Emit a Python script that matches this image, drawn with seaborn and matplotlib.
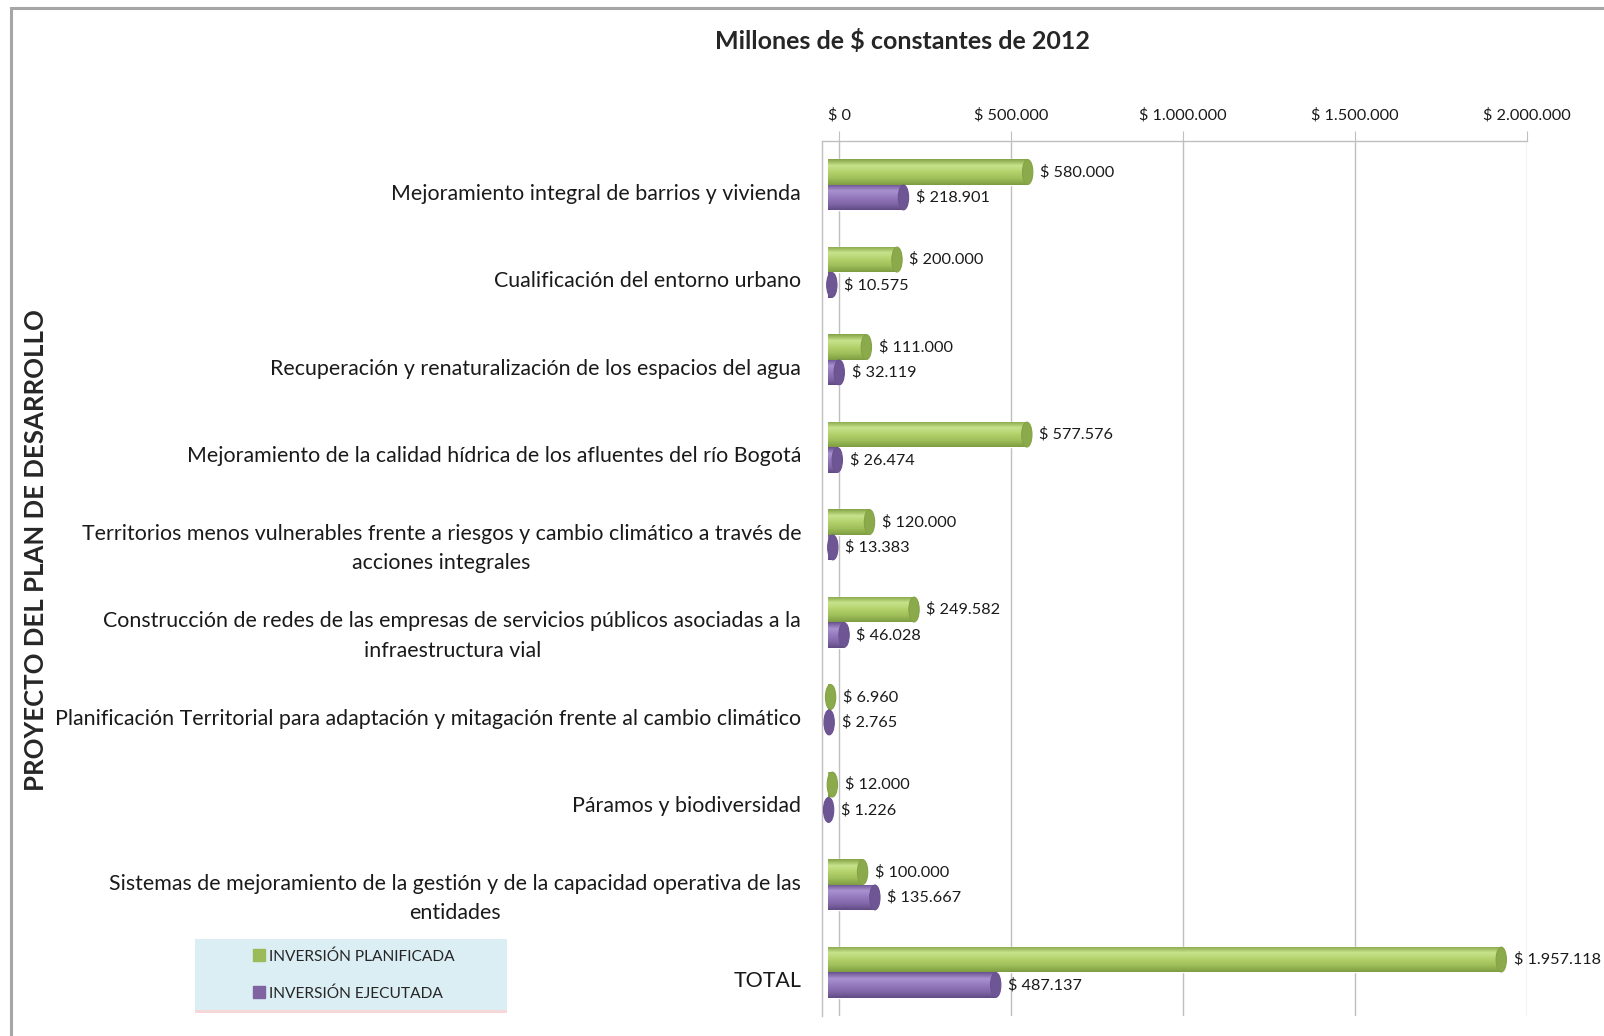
import numpy as np
import pandas as pd
import seaborn as sns
import matplotlib.pyplot as plt
import matplotlib.transforms as mtransforms
from matplotlib.colors import LinearSegmentedColormap
from matplotlib.patches import Ellipse, Rectangle
from matplotlib.lines import Line2D

# datos del grafico
proyectos = [
    "Mejoramiento integral de barrios y vivienda",
    "Cualificación del entorno urbano",
    "Recuperación y renaturalización de los espacios del agua",
    "Mejoramiento de la calidad hídrica de los afluentes del río Bogotá",
    "Territorios menos vulnerables frente a riesgos y cambio climático a través de\nacciones integrales",
    "Construcción de redes de las empresas de servicios públicos asociadas a la\ninfraestructura vial",
    "Planificación Territorial para adaptación y mitagación frente al cambio climático",
    "Páramos y biodiversidad",
    "Sistemas de mejoramiento de la gestión y de la capacidad operativa de las\nentidades",
    "TOTAL",
]
planificada = [580000, 200000, 111000, 577576, 120000, 249582, 6960, 12000, 100000, 1957118]
ejecutada = [218901, 10575, 32119, 26474, 13383, 46028, 2765, 1226, 135667, 487137]
series = ["INVERSIÓN PLANIFICADA", "INVERSIÓN EJECUTADA"]
ticks = [0, 500000, 1000000, 1500000, 2000000]

df = pd.DataFrame({
    "proyecto": proyectos * 2,
    "tipo": [series[0]] * len(proyectos) + [series[1]] * len(proyectos),
    "valor": planificada + ejecutada,
})

def pesos(v):
    return "$ " + f"{v:,.0f}".replace(",", ".")

verde = "#9BBB59"
morado = "#8064A2"
# tonos para simular el cilindro (borde, brillo, base)
tonos = {
    0: ["#84A346", "#C8E38C", "#B3D26C", "#9FBF5A", "#7E9D42"],
    1: ["#6A5290", "#A992CF", "#957BBE", "#8268AA", "#624B84"],
}
tapa = {0: "#8BAA4B", 1: "#6E5593"}

sns.set_style("white")
plt.rcParams["font.family"] = ["Lato", "DejaVu Sans"]

fig = plt.figure(figsize=(16.04, 10.36), dpi=100)
ax = fig.add_axes([822 / 1604, 1 - 1016 / 1036, 705 / 1604, 875 / 1036])

sns.barplot(data=df, y="proyecto", x="valor", hue="tipo", orient="h",
            palette=[verde, morado], width=0.58, ax=ax, legend=False,
            saturation=1)

xmin, xmax = -50000, 2000000
ylim = ax.get_ylim()

# cara frontal del cilindro algo desplazada a la izquierda (efecto 3D)
shift = mtransforms.ScaledTranslation(-11 / 100, 0, fig.dpi_scale_trans)

for i, cont in enumerate(ax.containers):
    cmap = LinearSegmentedColormap.from_list("c%d" % i, tonos[i])
    grad = np.linspace(0, 1, 64).reshape(-1, 1)
    for p in cont:
        p.set_transform(ax.transData + shift)
        x0, y0, w, h = p.get_x(), p.get_y(), p.get_width(), p.get_height()
        im = ax.imshow(grad, cmap=cmap, aspect="auto", origin="upper",
                       extent=(x0, x0 + w, y0 + h, y0), zorder=2.5,
                       interpolation="bilinear")
        im.set_transform(ax.transData + shift)
        im.set_clip_path(p)
        ax.add_patch(Ellipse((x0 + w, y0 + h / 2), 30000, h * 0.98,
                             facecolor=tapa[i], edgecolor=tonos[i][0],
                             lw=0.8, zorder=2.6,
                             transform=ax.transData + shift))
    ax.bar_label(cont, labels=[pesos(v) for v in cont.datavalues],
                 padding=1, fontsize=11.7, color="#1a1a1a")

ax.set_xlim(xmin, xmax)
ax.set_ylim(ylim)

ax.xaxis.tick_top()
ax.set_xticks(ticks)
ax.set_xticklabels([pesos(t) for t in ticks])
ax.tick_params(axis="x", top=True, length=7, color="#bfbfbf", pad=6.5,
               labelsize=11.7, labelcolor="#1a1a1a")
ax.tick_params(axis="y", length=0, pad=15, labelsize=15.4, labelcolor="#1a1a1a")
ax.set_xlabel("")
ax.set_ylabel("")
ax.grid(axis="x", color="#bfbfbf", lw=1)
ax.set_axisbelow(True)
for s in ["bottom", "right"]:
    ax.spines[s].set_visible(False)
for s in ["top", "left"]:
    ax.spines[s].set_color("#bfbfbf")
    ax.spines[s].set_linewidth(1)

# etiquetas de proyecto un poco mas abajo, como en la vista 3D
bajar = mtransforms.ScaledTranslation(0, -7 / 100, fig.dpi_scale_trans)
for tl in ax.get_yticklabels():
    tl.set_multialignment("center")
    tl.set_linespacing(1.6)
    tl.set_transform(tl.get_transform() + bajar)

fig.text(902 / 1604, 1 - 41 / 1036, "Millones de $ constantes de 2012",
         ha="center", va="center", fontsize=18, fontweight="bold")
fig.text(36 / 1604, 1 - 550 / 1036, "PROYECTO DEL PLAN DE DESARROLLO",
         ha="center", va="center", rotation=90, fontsize=18.5,
         fontweight="bold")

# leyenda con fondo celeste
fig.patches.append(Rectangle((195 / 1604, 1 - 1013 / 1036), 312 / 1604, 4 / 1036,
                             transform=fig.transFigure, facecolor="#F6D8D8",
                             edgecolor="none"))
fig.patches.append(Rectangle((195 / 1604, 1 - 1010 / 1036), 312 / 1604, 71 / 1036,
                             transform=fig.transFigure, facecolor="#DBEEF3",
                             edgecolor="none"))
handles = [Line2D([], [], marker="s", ls="", color=c, markersize=8)
           for c in [verde, morado]]
fig.legend(handles, series, loc="center left",
           bbox_to_anchor=(237 / 1604, 1 - 975 / 1036), frameon=False,
           fontsize=11.2, handletextpad=0.15, labelspacing=1.45,
           handlelength=1.0)

# marco exterior
fig.patches.append(Rectangle((11 / 1604, -0.05), 1.2, 1.05 - 8 / 1036,
                             transform=fig.transFigure, facecolor="none",
                             edgecolor="#a6a6a6", lw=2.2))

fig.savefig("out.png", dpi=100)
